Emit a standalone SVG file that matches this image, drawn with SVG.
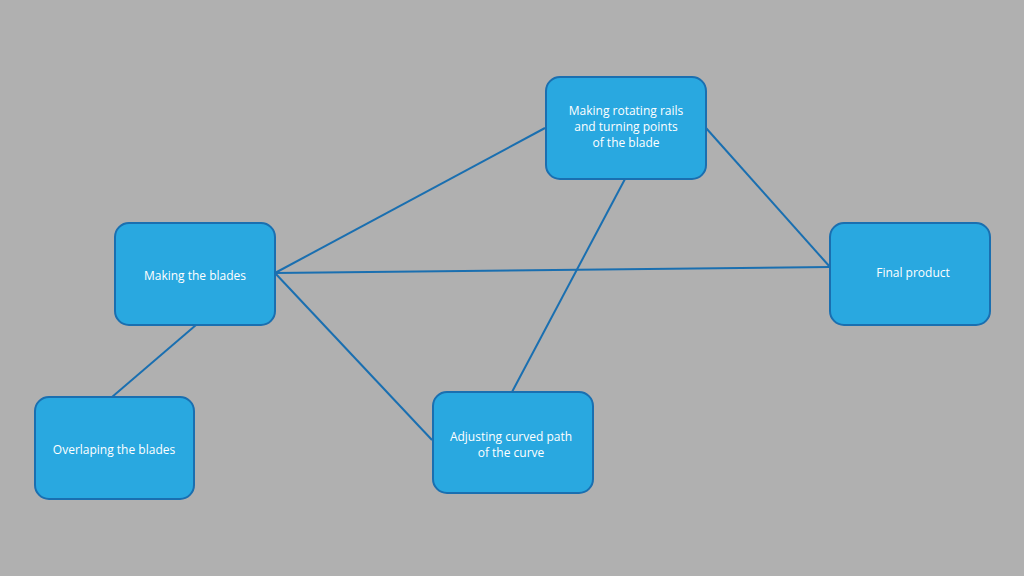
<svg xmlns="http://www.w3.org/2000/svg" width="1024" height="576" viewBox="0 0 1024 576">
<style>
.n rect{fill:#29a8e0;stroke:#1a6fb0;stroke-width:2}
.n text{fill:#fff;font-family:"Open Sans","Liberation Sans",sans-serif;font-size:12px;text-anchor:middle}
#c line{stroke:#1a6fb0;stroke-width:2}
</style>
<rect width="1024" height="576" fill="#b0b0b0"/>
<g id="c">
<line x1="275" y1="273" x2="545" y2="128"/>
<line x1="275" y1="273" x2="830" y2="267"/>
<line x1="275" y1="273" x2="432" y2="440"/>
<line x1="196" y1="325" x2="112" y2="397"/>
<line x1="625" y1="179" x2="512" y2="392"/>
<line x1="706" y1="128" x2="830" y2="267"/>
</g>
<g id="n1" class="n"><rect x="546" y="77" width="160" height="102" rx="14"/><text x="626" y="115">Making rotating rails</text><text x="626" y="131">and turning points</text><text x="626" y="147">of the blade</text></g>
<g id="n2" class="n"><rect x="115" y="223" width="160" height="102" rx="14"/><text x="195" y="280">Making the blades</text></g>
<g id="n3" class="n"><rect x="830" y="223" width="160" height="102" rx="14"/><text x="913" y="277">Final product</text></g>
<g id="n4" class="n"><rect x="35" y="397" width="159" height="102" rx="14"/><text x="114" y="454">Overlaping the blades</text></g>
<g id="n5" class="n"><rect x="433" y="392" width="160" height="101" rx="14"/><text x="511" y="441">Adjusting curved path</text><text x="511" y="457">of the curve</text></g>
</svg>
